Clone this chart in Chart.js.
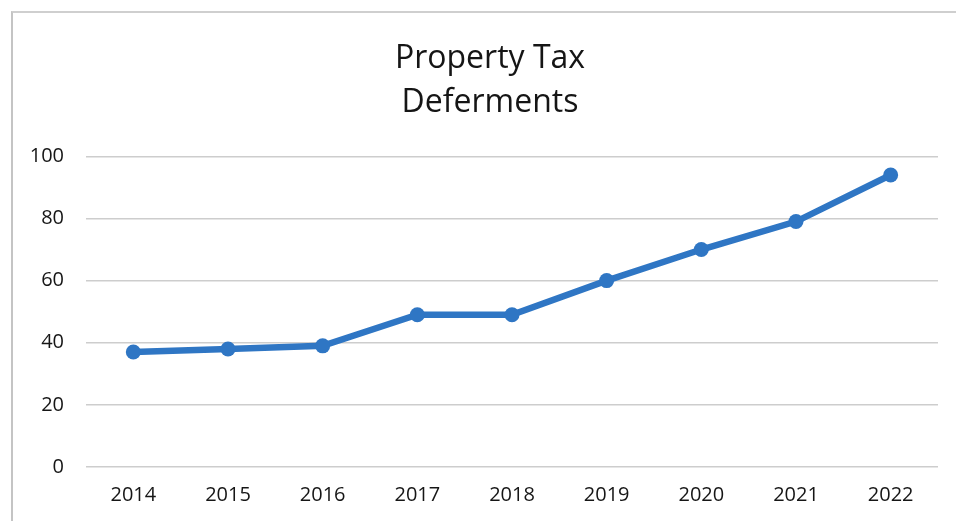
<!DOCTYPE html>
<html>
<head>
<meta charset="utf-8">
<script src="https://cdn.jsdelivr.net/npm/chart.js@4"></script>
<style>
  html, body { margin: 0; padding: 0; background: #fff; overflow: hidden; }
  #frame {
    position: absolute; left: 11px; top: 11px; width: 1000px; height: 600px;
    border-left: 2px solid #c4c4c4; border-top: 2px solid #cfcfcf;
  }
  #wrap { position: absolute; left: 0; top: 0; width: 956px; height: 521px; }
</style>
</head>
<body>
<div id="frame"></div>
<div id="wrap"><canvas id="chart" width="956" height="521"></canvas></div>
<script>
// data
const years = ['2014', '2015', '2016', '2017', '2018', '2019', '2020', '2021', '2022'];
const deferments = [37, 38, 39, 49, 49, 60, 70, 79, 94];
const yTicks = [0, 20, 40, 60, 80, 100];

const blue = '#2f76c4';
const gridGray = '#cdcdcd';
const textFont = '"Open Sans", "Liberation Sans", sans-serif';

// the title sits a little right of the canvas centre in the picture
const titleShift = {
    id: 'titleShift',
    afterLayout(chart) {
        const t = chart.titleBlock;
        if (t) { t.left += 21; t.right += 21; }
    }
};

new Chart(document.getElementById('chart'), {
    type: 'line',
    data: {
        labels: years,
        datasets: [{
            label: 'Property Tax Deferments',
            data: deferments,
            borderColor: blue,
            backgroundColor: blue,
            borderWidth: 6.5,
            pointRadius: 7.5,
            pointHoverRadius: 7.5,
            pointBorderWidth: 0,
            tension: 0
        }]
    },
    options: {
        responsive: false,
        animation: false,
        layout: { padding: { left: 0, right: 18, top: 0, bottom: 0 } },
        plugins: {
            legend: { display: false },
            tooltip: { enabled: false },
            title: {
                display: true,
                text: ['Property Tax', 'Deferments'],
                color: '#151515',
                font: { family: textFont, size: 32, weight: 'normal', lineHeight: 1.38 },
                padding: { top: 37, bottom: 31 }
            }
        },
        scales: {
            x: {
                offset: true,
                grid: { display: false, drawTicks: false },
                border: { display: false },
                ticks: {
                    color: '#161616',
                    font: { family: textFont, size: 20 },
                    padding: 16
                },
                afterFit: function (scale) { scale.height = 54; }
            },
            y: {
                min: 0,
                max: 100,
                afterBuildTicks: function (scale) {
                    scale.ticks = yTicks.map(v => ({ value: v }));
                },
                grid: { color: gridGray, lineWidth: 1.5, drawTicks: false },
                border: { display: false },
                ticks: {
                    color: '#161616',
                    font: { family: textFont, size: 20 },
                    padding: 22
                },
                afterFit: function (scale) { scale.width = 86; }
            }
        }
    },
    plugins: [titleShift]
});
</script>
</body>
</html>
